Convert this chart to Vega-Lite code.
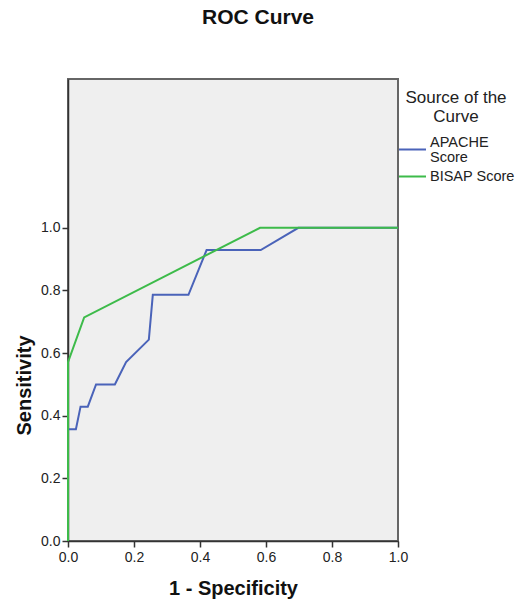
{
  "$schema": "https://vega.github.io/schema/vega-lite/v6.json",
  "width": 330,
  "height": 462,
  "autosize": {"type": "none"},
  "padding": {"left": 68, "top": 79, "right": 119, "bottom": 62},
  "background": "white",
  "title": {"text": "ROC Curve", "fontSize": 21, "font": "Liberation Sans", "fontWeight": "bold", "anchor": "middle", "dx": 25, "offset": 51, "color": "#111"},
  "data": {
    "values": [
      {"series": "APACHE Score", "o": 1, "x": 0, "y": 0},
      {"series": "APACHE Score", "o": 2, "x": 0, "y": 0.357},
      {"series": "APACHE Score", "o": 3, "x": 0.024, "y": 0.357},
      {"series": "APACHE Score", "o": 4, "x": 0.038, "y": 0.429},
      {"series": "APACHE Score", "o": 5, "x": 0.06, "y": 0.429},
      {"series": "APACHE Score", "o": 6, "x": 0.085, "y": 0.5},
      {"series": "APACHE Score", "o": 7, "x": 0.142, "y": 0.5},
      {"series": "APACHE Score", "o": 8, "x": 0.176, "y": 0.571},
      {"series": "APACHE Score", "o": 9, "x": 0.245, "y": 0.643},
      {"series": "APACHE Score", "o": 10, "x": 0.257, "y": 0.786},
      {"series": "APACHE Score", "o": 11, "x": 0.365, "y": 0.786},
      {"series": "APACHE Score", "o": 12, "x": 0.42, "y": 0.929},
      {"series": "APACHE Score", "o": 13, "x": 0.584, "y": 0.929},
      {"series": "APACHE Score", "o": 14, "x": 0.698, "y": 1},
      {"series": "APACHE Score", "o": 15, "x": 1, "y": 1},
      {"series": "BISAP Score", "o": 1, "x": 0, "y": 0},
      {"series": "BISAP Score", "o": 2, "x": 0, "y": 0.571},
      {"series": "BISAP Score", "o": 3, "x": 0.049, "y": 0.714},
      {"series": "BISAP Score", "o": 4, "x": 0.582, "y": 1},
      {"series": "BISAP Score", "o": 5, "x": 1, "y": 1}
    ]
  },
  "mark": {"type": "line", "strokeWidth": 2},
  "encoding": {
    "x": {
      "field": "x", "type": "quantitative",
      "scale": {"domain": [0, 1], "nice": false, "zero": false},
      "axis": {"title": "1 - Specificity", "values": [0, 0.2, 0.4, 0.6, 0.8, 1], "format": ".1f", "labelPadding": 3, "titlePadding": 14, "labelFlush": false}
    },
    "y": {
      "field": "y", "type": "quantitative",
      "scale": {"domain": [0, 1.475], "nice": false},
      "axis": {"title": "Sensitivity", "values": [0, 0.2, 0.4, 0.6, 0.8, 1], "format": ".1f", "labelPadding": 2, "titlePadding": 6, "titleY": 306, "labelFlush": false}
    },
    "color": {
      "field": "series", "type": "nominal",
      "scale": {"domain": ["APACHE Score", "BISAP Score"], "range": ["#4a63b9", "#3dbb4a"]},
      "legend": {
        "title": ["Source of the", "Curve"],
        "orient": "none", "legendX": 330, "legendY": 11,
        "titleFontSize": 17, "titleFontWeight": "normal", "titleAlign": "center", "titleAnchor": "middle", "titleLineHeight": 19, "titleColor": "#222", "titlePadding": 11,
        "labelFontSize": 14.5, "labelColor": "#222", "labelOffset": 3, "labelLimit": 200,
        "labelExpr": "datum.label == 'APACHE Score' ? ['APACHE', 'Score'] : datum.label",
        "symbolType": "stroke", "symbolSize": 729, "symbolStrokeWidth": 2, "rowPadding": 0, "clipHeight": 25,
        "encode": {
          "labels": {
            "update": {
              "lineHeight": {"value": 15},
              "dy": {"signal": "datum.value == 'APACHE Score' ? -7 : 0"}
            }
          }
        }
      }
    },
    "order": {"field": "o", "type": "quantitative"}
  },
  "config": {
    "font": "Liberation Sans",
    "view": {"fill": "#efefef", "stroke": "#666", "strokeWidth": 2},
    "axis": {
      "grid": false, "domainColor": "#333", "domainWidth": 1.5, "tickColor": "#333", "tickWidth": 1.5, "tickSize": 6,
      "labelFontSize": 14, "labelColor": "#222", "labelFont": "Liberation Sans",
      "titleFontSize": 20, "titleFontWeight": "bold", "titleColor": "#111", "titleFont": "Liberation Sans"
    },
    "legend": {"labelFont": "Liberation Sans", "titleFont": "Liberation Sans"}
  }
}
